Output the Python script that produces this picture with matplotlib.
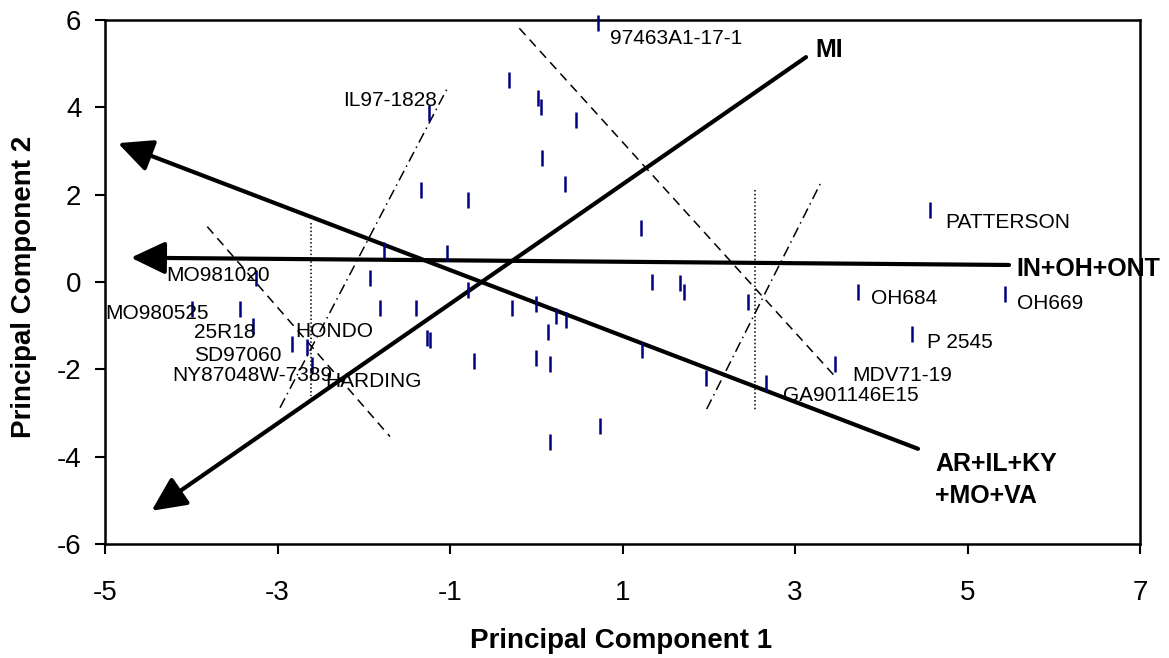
import matplotlib
matplotlib.use("Agg")
import matplotlib.pyplot as plt

plt.rcParams['font.family'] = ['Liberation Sans', 'DejaVu Sans']

# ---- data ----
pc1 = [0.72, -0.32, 0.02, 0.05, 0.46, 0.07, 0.33, 1.21, -1.24, -1.34, -0.79, -1.77,
       -1.04, -1.93, -3.25, -3.99, -3.43, -3.28, -2.83, -2.66, -2.60, -1.81, -1.39,
       -1.27, -1.23, -0.72, -0.79, -0.28, 0.00, 0.23, 0.35, 0.14, 0.00, 0.16, 1.34,
       1.67, 1.71, 1.23, 1.97, 2.46, 2.66, 0.74, 0.16, 3.73, 3.46, 4.57, 5.44, 4.36]
pc2 = [5.92, 4.63, 4.21, 4.01, 3.71, 2.84, 2.24, 1.24, 3.87, 2.11, 1.88, 0.73,
       0.66, 0.09, 0.09, -0.62, -0.62, -1.01, -1.42, -1.49, -1.90, -0.59, -0.59,
       -1.28, -1.33, -1.81, -0.18, -0.59, -0.50, -0.78, -0.87, -1.14, -1.74, -1.88, 0.00,
       -0.02, -0.23, -1.56, -2.20, -0.46, -2.31, -3.30, -3.66, -0.23, -1.88, 1.65, -0.27, -1.19]

label_text = ["97463A1-17-1", "IL97-1828", "PATTERSON", "OH684", "OH669", "P 2545",
              "MDV71-19", "GA901146E15", "MO981020", "MO980525", "25R18", "HONDO",
              "SD97060", "NY87048W-7389", "HARDING"]
label_x = [0.855, -2.237, 4.739, 3.878, 5.570, 4.526, 3.668, 2.865, -4.285, -5.0,
           -3.965, -2.797, -3.965, -4.215, -2.449]
label_y = [5.565, 4.15, 1.363, -0.389, -0.503, -1.385, -2.152, -2.61, 0.138, -0.732,
           -1.156, -1.144, -1.694, -2.152, -2.28]

# loading vectors: (tip x, tip y, tail x, tail y)
vec_names = ["MI", "AR+IL+KY", "IN+OH+ONT"]
vec_tip_x = [-4.46, -4.85, -4.70]
vec_tip_y = [-5.24, 3.18, 0.557]
vec_end_x = [3.128, 4.426, 5.481]
vec_end_y = [5.15, -3.82, 0.39]

vec_label = ["MI", "IN+OH+ONT", "AR+IL+KY", "+MO+VA"]
vec_label_x = [3.232, 5.570, 4.623, 4.623]
vec_label_y = [5.31, 0.298, -4.16, -4.90]

# thin guide lines
guide_x0 = [-3.814, -2.971, -2.612, -0.196, 1.976, 2.536]
guide_y0 = [1.267, -2.88, 1.345, 5.81, -2.91, 2.11]
guide_x1 = [-1.696, -1.038, -2.612, 3.481, 3.301, 2.536]
guide_y1 = [-3.54, 4.41, -2.60, -2.20, 2.28, -2.93]
guide_style = [(0, (6, 4)), (0, (7, 3, 1, 3)), (0, (1, 1.5)),
               (0, (6, 4)), (0, (7, 3, 1, 3)), (0, (1, 1.5))]

x_ticks = [-5, -3, -1, 1, 3, 5, 7]
y_ticks = [-6, -4, -2, 0, 2, 4, 6]

# ---- figure ----
fig = plt.figure(figsize=(11.69, 6.58), dpi=100)
ax = fig.add_axes([105/1169, 1 - 544/658, (1140-105)/1169, (544-20)/658])
ax.set_xlim(-5, 7)
ax.set_ylim(-6, 6)

for x0, y0, x1, y1, ls in zip(guide_x0, guide_y0, guide_x1, guide_y1, guide_style):
    ax.plot([x0, x1], [y0, y1], color='black', lw=1.1, linestyle=ls, zorder=2)

for tx, ty, ex, ey in zip(vec_tip_x, vec_tip_y, vec_end_x, vec_end_y):
    ax.annotate("", xy=(tx, ty), xytext=(ex, ey),
                arrowprops=dict(arrowstyle="-|>,head_length=1.05,head_width=0.5",
                                lw=3.0, color='black', shrinkA=0, shrinkB=0,
                                mutation_scale=20),
                zorder=3)

ax.plot(pc1, pc2, linestyle='none', marker='|', markersize=12,
        markeredgewidth=1.8, color='#000080', zorder=4, clip_on=False)

for t, x, y in zip(label_text, label_x, label_y):
    ax.text(x, y, t, fontsize=15, ha='left', va='center', color='black', zorder=5)

for t, x, y in zip(vec_label, vec_label_x, vec_label_y):
    ax.text(x, y, t, fontsize=18, fontweight='bold', ha='left', va='center',
            color='black', zorder=5, clip_on=False)

ax.set_xticks(x_ticks)
ax.set_yticks(y_ticks)
ax.set_xticklabels([str(v) for v in x_ticks], fontsize=20)
ax.set_yticklabels([str(v) for v in y_ticks], fontsize=20)
ax.tick_params(direction='out', length=7, width=1.5)
ax.tick_params(axis='x', pad=19)
ax.tick_params(axis='y', pad=10)
for s in ax.spines.values():
    s.set_linewidth(1.8)

ax.set_xlabel("Principal Component 1", fontsize=20, fontweight='bold')
ax.set_ylabel("Principal Component 2", fontsize=20, fontweight='bold')
ax.xaxis.set_label_coords(0.4986, -0.185)
ax.yaxis.set_label_coords(-0.078, 0.49)
ax.xaxis.label.set_va('center')
ax.yaxis.label.set_va('center')

fig.savefig("out.png", dpi=100)
